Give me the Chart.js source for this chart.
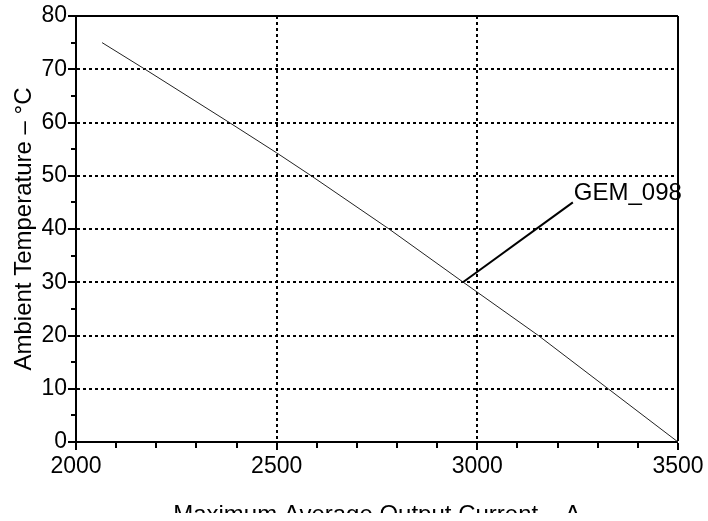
<!DOCTYPE html>
<html>
<head>
<meta charset="UTF-8">
<title>GEM_098 derating</title>
<script src="https://cdn.jsdelivr.net/npm/chart.js"></script>
<style>
  html, body { margin: 0; padding: 0; background: #fff; }
  #wrap { width: 708px; height: 513px; overflow: hidden; }
  canvas { display: block; }
</style>
</head>
<body>
<div id="wrap"><canvas id="derating" width="708" height="540"></canvas></div>
<script>
// values
const currentA = [2065, 2172, 2382, 2500, 2586, 2780, 2965, 3152, 3326, 3500];
const ambientC = [75, 70, 60, 54.3, 50, 40, 30, 20, 10, 0];

// labelled ticks
const xMajor = [2000, 2500, 3000, 3500];
const yMajor = [0, 10, 20, 30, 40, 50, 60, 70, 80];

// curve label and its leader line (data units)
const curveName = 'GEM_098';
const leaderFrom = [2964, 30];
const leaderTo = [3238, 45];

Chart.defaults.color = '#000';
Chart.defaults.font.family = '"Liberation Sans", Arial, Helvetica, sans-serif';

function gridFor(major, min, max, minorDash) {
  return {
    color: '#000',
    tickColor: '#000',
    tickLength: 8,
    tickWidth: 2,
    lineWidth: ctx => {
      const v = ctx.tick.value;
      if (v === max) return 2;
      if (v === min) return 0;
      return major.includes(v) ? 2 : 0;
    },
    tickBorderDash: ctx => major.includes(ctx.tick.value) ? [] : minorDash
  };
}

function borderFor(major, min, max) {
  return {
    display: true,
    color: '#000',
    width: 2,
    dash: ctx => {
      if (!ctx.tick) return [];
      const v = ctx.tick.value;
      return (v !== min && v !== max && major.includes(v)) ? [3, 3] : [];
    }
  };
}

const leaderPlugin = {
  id: 'leader',
  afterDatasetsDraw(chart) {
    const {ctx, scales: {x, y}} = chart;
    const x1 = x.getPixelForValue(leaderFrom[0]), y1 = y.getPixelForValue(leaderFrom[1]);
    const x2 = x.getPixelForValue(leaderTo[0]), y2 = y.getPixelForValue(leaderTo[1]);
    ctx.save();
    ctx.strokeStyle = '#000';
    ctx.lineWidth = 2;
    ctx.beginPath();
    ctx.moveTo(x1, y1);
    ctx.lineTo(x2, y2);
    ctx.stroke();
    ctx.fillStyle = '#000';
    ctx.font = '24px "Liberation Sans", Arial, Helvetica, sans-serif';
    ctx.textBaseline = 'alphabetic';
    ctx.textAlign = 'left';
    ctx.fillText(curveName, x2 + 1, y2 - 2);
    ctx.restore();
  }
};

new Chart(document.getElementById('derating'), {
  type: 'scatter',
  data: {
    datasets: [{
      label: curveName,
      data: currentA.map((c, i) => ({x: c, y: ambientC[i]})),
      showLine: true,
      borderColor: '#222',
      borderWidth: 1,
      pointRadius: 0,
      tension: 0
    }]
  },
  options: {
    responsive: false,
    animation: false,
    layout: {padding: {top: 16, right: 30, left: 0, bottom: 0}},
    plugins: {legend: {display: false}, tooltip: {enabled: false}},
    scales: {
      x: {
        type: 'linear',
        min: 2000,
        max: 3500,
        afterFit: s => { s.height = 98; s.paddingLeft = 0; s.paddingRight = 0; },
        ticks: {
          stepSize: 100,
          autoSkip: false,
          maxRotation: 0,
          padding: 3,
          font: {size: 23},
          callback: v => xMajor.includes(v) ? String(v) : ''
        },
        grid: gridFor(xMajor, 2000, 3500, [5, 40]),
        border: borderFor(xMajor, 2000, 3500),
        title: {
          display: true,
          text: 'Maximum Average Output Current \u2013 A',
          font: {size: 24},
          padding: {top: 0, bottom: 10}
        }
      },
      y: {
        type: 'linear',
        min: 0,
        max: 80,
        afterFit: s => { s.width = 76; s.paddingTop = 0; s.paddingBottom = 0; },
        ticks: {
          stepSize: 5,
          autoSkip: false,
          padding: 1,
          font: {size: 23},
          callback: v => yMajor.includes(v) ? String(v) : ''
        },
        grid: gridFor(yMajor, 0, 80, [0, 3, 6, 40]),
        border: borderFor(yMajor, 0, 80),
        title: {
          display: true,
          text: 'Ambient Temperature \u2013 \u00b0C',
          font: {size: 24},
          padding: {top: 9.5, bottom: 0}
        }
      }
    }
  },
  plugins: [leaderPlugin]
});
</script>
</body>
</html>
